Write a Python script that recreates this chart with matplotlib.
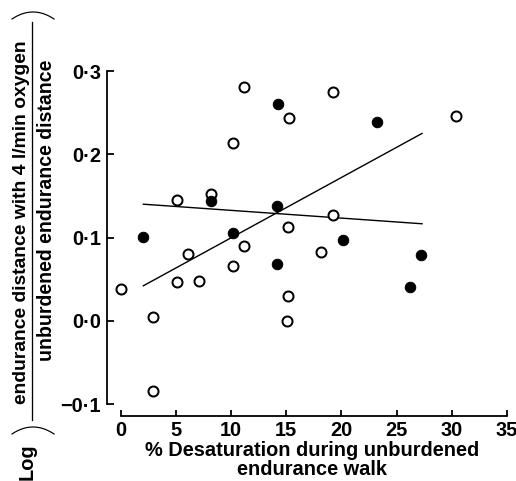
import numpy as np
import matplotlib
matplotlib.use('Agg')
import matplotlib.pyplot as plt
from matplotlib.lines import Line2D

plt.rcParams['font.family'] = ['Liberation Sans', 'DejaVu Sans']
plt.rcParams['font.weight'] = 'bold'

#
# values
#
open_x = [0.0, 2.95, 2.95, 5.12, 5.12, 6.12, 7.09, 8.2, 10.16, 10.13,
          11.16, 11.2, 15.23, 15.2, 15.14, 15.1, 18.13, 19.24, 19.28, 30.34]
open_y = [0.038, 0.004, -0.084, 0.145, 0.047, 0.080, 0.048, 0.152, 0.213, 0.066,
          0.090, 0.281, 0.243, 0.113, 0.030, 0.000, 0.083, 0.127, 0.275, 0.246]

filled_x = [2.05, 8.14, 10.16, 14.27, 14.2, 14.2, 20.18, 23.26, 26.2, 27.18]
filled_y = [0.101, 0.144, 0.105, 0.260, 0.138, 0.068, 0.097, 0.239, 0.040, 0.079]

# fitted lines (end points)
line_x = [2.05, 27.3]
rise_y = [0.042, 0.225]
flat_y = [0.140, 0.1165]

xticks = [0, 5, 10, 15, 20, 25, 30, 35]
yticks = [-0.1, 0.0, 0.1, 0.2, 0.3]
ytick_labels = ['\u22120\u00b71', '0\u00b70', '0\u00b71', '0\u00b72', '0\u00b73']

xlabel = '% Desaturation during unburdened\nendurance walk'
ylab_log = 'Log'
ylab_num = 'endurance distance with 4 l/min oxygen'
ylab_den = 'unburdened endurance distance'

W, H = 516, 481
fig = plt.figure(figsize=(W / 72, H / 72), dpi=72)
ax = fig.add_axes([120.7 / W, (H - 404) / H, (507 - 120.7) / W, (404 - 71) / H])

ax.plot(line_x, rise_y, color='black', lw=1.4)
ax.plot(line_x, flat_y, color='black', lw=1.4)
ax.plot(open_x, open_y, 'o', ms=10, mfc='white', mec='black', mew=2.0,
        clip_on=False, zorder=3)
ax.plot(filled_x, filled_y, 'o', ms=10.5, mfc='black', mec='black', mew=1.0,
        clip_on=False, zorder=3)

ax.set_xlim(0, 35)
ax.set_ylim(-0.1, 0.3)

for s in ['top', 'right']:
    ax.spines[s].set_visible(False)
ax.spines['left'].set_position(('outward', 13.7))
ax.spines['bottom'].set_position(('outward', 12))
ax.spines['left'].set_bounds(-0.1, 0.3)
ax.spines['bottom'].set_bounds(0, 35)
ax.spines['left'].set_linewidth(1.8)
ax.spines['bottom'].set_linewidth(1.8)

ax.set_xticks(xticks)
ax.set_xticklabels([str(t) for t in xticks])
ax.set_yticks(yticks)
ax.set_yticklabels(ytick_labels)
ax.tick_params(axis='both', direction='in', width=1.8, labelsize=20)
ax.tick_params(axis='y', length=7, pad=6)
ax.tick_params(axis='x', length=6, pad=5)

fig.text(312 / W, 1 - 460 / H, xlabel, ha='center', va='center',
         fontsize=20, linespacing=0.95)

# y label: Log ( numerator / denominator )
def fx(px):
    return px / W

def fy(py):
    return 1 - py / H

fig.text(fx(27), fy(462), ylab_log, rotation=90, ha='center', va='center', fontsize=20)
fig.text(fx(22), fy(222), ylab_num, rotation=90, ha='center', va='center', fontsize=19.2)
fig.text(fx(47), fy(210), ylab_den, rotation=90, ha='center', va='center', fontsize=19.5)
fig.add_artist(Line2D([fx(32), fx(32)], [fy(22), fy(420)], color='black', lw=1.3))

# the big brackets around the fraction
t = np.linspace(-1, 1, 40)
bx = 33 + 21 * t
fig.add_artist(Line2D(fx(bx), fy(434 - 7 * (1 - t ** 2)), color='black', lw=1.2))
fig.add_artist(Line2D(fx(bx), fy(12 + 7 * (1 - t ** 2) * -1 + 7), color='black', lw=1.2))

fig.savefig('out.png', dpi=72)
